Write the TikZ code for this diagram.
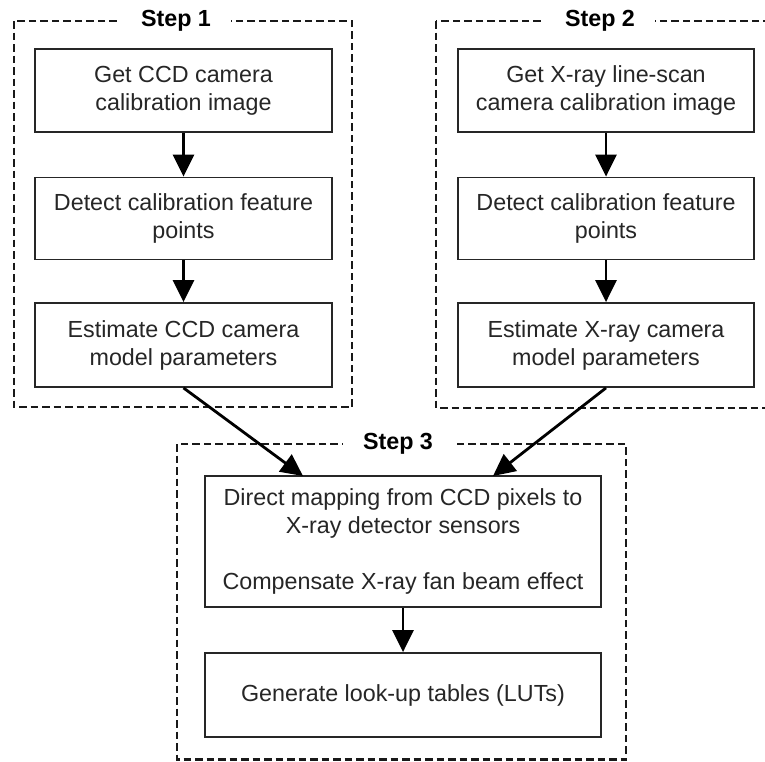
\documentclass[tikz,border=0pt]{standalone}
\usepackage{fontspec}
\setmainfont{Liberation Sans}
\usetikzlibrary{arrows.meta,calc}

\begin{document}
\begin{tikzpicture}[x=1pt,y=-1pt,
  font=\fontsize{23.3}{28}\selectfont,
  stepbox/.style={draw=black!85, line width=1.8pt, fill=white, align=center,
    inner sep=0pt, text=black!85},
  group/.style={draw=black!90, line width=2.8pt, dash pattern=on 7.5pt off 4pt},
  grouptitle/.style={fill=white, inner xsep=20pt, inner ysep=2pt, anchor=base,
    font=\fontsize{23.3}{28}\selectfont\bfseries},
  flow/.style={line width=2.8pt, -{Triangle[length=22pt,width=21pt]}}
]
\clip (0,0) rectangle (765,761);

% dashed group frames
\draw[group] (14,21) rectangle (352,407);
\draw[group] (436,21) rectangle (774,408);
\draw[group] (177,444) rectangle (626,759.5);

\node[grouptitle] (t1) at (176,26) {Step 1};
\node[grouptitle] (t2) at (600,26) {Step 2};
\node[grouptitle] (t3) at (398,449) {Step 3};

% step 1: CCD camera
\node[stepbox, minimum width=297pt, minimum height=83pt] (a1) at (183.5,90.5)
  {Get CCD camera\\calibration image};
\node[stepbox, minimum width=297pt, minimum height=82pt] (a2) at (183.5,218.5)
  {Detect calibration feature\\points};
\node[stepbox, minimum width=297pt, minimum height=84pt] (a3) at (183.5,345)
  {Estimate CCD camera\\model parameters};

% step 2: X-ray line-scan camera
\node[stepbox, minimum width=296pt, minimum height=83pt] (b1) at (606,90.5)
  {Get X-ray line-scan\\camera calibration image};
\node[stepbox, minimum width=296pt, minimum height=82pt] (b2) at (606,218.5)
  {Detect calibration feature\\points};
\node[stepbox, minimum width=296pt, minimum height=84pt] (b3) at (606,345)
  {Estimate X-ray camera\\model parameters};

% step 3: mapping and tables
\node[stepbox, minimum width=396pt, minimum height=131pt] (c1) at (403,541.5)
  {Direct mapping from CCD pixels to\\X-ray detector sensors\\[28pt]Compensate X-ray fan beam effect};
\node[stepbox, minimum width=396pt, minimum height=84pt] (c2) at (403,695)
  {Generate look-up tables (LUTs)};

\coordinate (inL) at (303,476);
\coordinate (inR) at (493,476);

\draw[flow] (a1) -- (a2);
\draw[flow] (a2) -- (a3);
\draw[flow] (b1) -- (b2);
\draw[flow] (b2) -- (b3);
\draw[flow] (a3.south) -- (inL);
\draw[flow] (b3.south) -- (inR);
\draw[flow] (c1) -- (c2);
\end{tikzpicture}
\end{document}
